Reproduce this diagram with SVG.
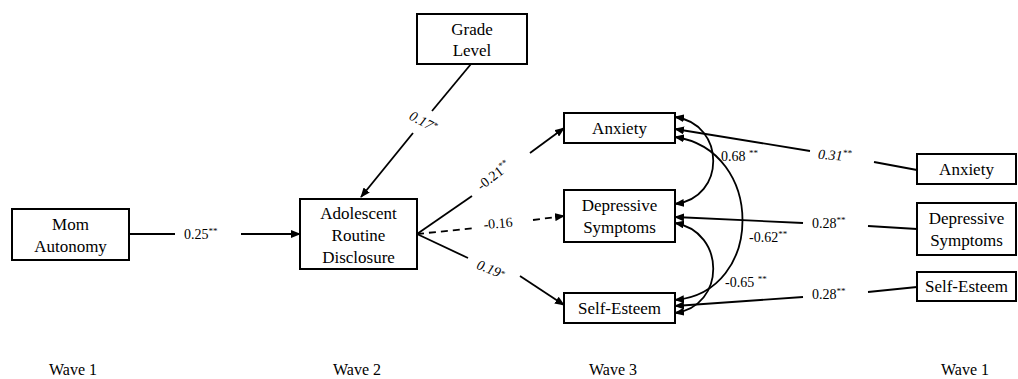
<svg xmlns="http://www.w3.org/2000/svg" width="1018" height="379" viewBox="0 0 1018 379">
<style>
.box{fill:#fff;stroke:#000;stroke-width:2}
.nt{font-family:"Liberation Serif",serif;font-size:17px;fill:#000;text-anchor:middle}
.wt{font-family:"Liberation Serif",serif;font-size:16px;fill:#000;text-anchor:middle}
.lb{font-family:"Liberation Serif",serif;font-size:14px;fill:#000}
.it{font-style:italic}
.sup{font-size:9px}
.ln{fill:none;stroke:#000;stroke-width:1.8}
.dash{stroke-dasharray:7,5}
</style>
<defs>
<marker id="ah" markerUnits="userSpaceOnUse" markerWidth="10" markerHeight="8" refX="9" refY="4" orient="auto-start-reverse">
<path d="M0,0 L10,4 L0,8 Z" fill="#000"/>
</marker>
</defs>
<rect width="1018" height="379" fill="#fff"/>
<g id="connectors">
<line class="ln" x1="129" y1="234" x2="175" y2="234"/>
<line class="ln" x1="241" y1="234" x2="300" y2="234" marker-end="url(#ah)"/>
<line class="ln" x1="471" y1="64" x2="432" y2="111"/>
<line class="ln" x1="413" y1="133" x2="361" y2="197" marker-end="url(#ah)"/>
<line class="ln" x1="417" y1="234" x2="472" y2="196"/>
<line class="ln" x1="530" y1="153" x2="564" y2="128" marker-end="url(#ah)"/>
<line class="ln dash" x1="417" y1="234" x2="475" y2="228"/>
<line class="ln dash" x1="533" y1="220" x2="564" y2="216" marker-end="url(#ah)"/>
<line class="ln" x1="417" y1="234" x2="468" y2="258"/>
<line class="ln" x1="520" y1="276" x2="564" y2="305" marker-end="url(#ah)"/>
<line class="ln" x1="917" y1="170" x2="874" y2="162"/>
<line class="ln" x1="810" y1="151" x2="675" y2="129" marker-end="url(#ah)"/>
<line class="ln" x1="917" y1="229" x2="868" y2="226"/>
<line class="ln" x1="803" y1="223" x2="675" y2="217" marker-end="url(#ah)"/>
<line class="ln" x1="917" y1="287" x2="868" y2="292"/>
<line class="ln" x1="803" y1="297" x2="675" y2="306" marker-end="url(#ah)"/>
<path class="ln" d="M675,117 C726,124 726,198 675,204" marker-start="url(#ah)" marker-end="url(#ah)"/>
<path class="ln" d="M675,137 C765,150 765,292 675,300" marker-start="url(#ah)" marker-end="url(#ah)"/>
<path class="ln" d="M675,223 C726,232 726,306 675,313" marker-start="url(#ah)" marker-end="url(#ah)"/>
<text class="lb" x="184" y="239">0.25<tspan class="sup" dy="-5">**</tspan></text>
<text class="lb it" x="409" y="126" transform="rotate(28 423 121)">0.17<tspan class="sup" dy="-4">*</tspan></text>
<text class="lb" x="494" y="180" text-anchor="middle" transform="rotate(-38 494 176)">-0.21<tspan class="sup" dy="-5">**</tspan></text>
<text class="lb" x="498" y="228" text-anchor="middle" transform="rotate(-5 498 223)">-0.16</text>
<text class="lb it" x="491" y="274" text-anchor="middle" transform="rotate(22 491 269)">0.19<tspan class="sup" dy="-2">*</tspan></text>
<text class="lb it" x="818" y="160" transform="rotate(4 835 155)">0.31<tspan class="sup" dy="-5">**</tspan></text>
<text class="lb" x="812" y="228">0.28<tspan class="sup" dy="-5">**</tspan></text>
<text class="lb" x="812" y="299">0.28<tspan class="sup" dy="-5">**</tspan></text>
<text class="lb" x="721" y="161">0.68 <tspan class="sup" dy="-5">**</tspan></text>
<text class="lb" x="749" y="242">-0.62<tspan class="sup" dy="-5">**</tspan></text>
<text class="lb" x="725" y="287">-0.65 <tspan class="sup" dy="-5">**</tspan></text>
</g>
<g id="mom-autonomy">
<rect class="box" x="12" y="209" width="117" height="51"/>
<text class="nt" x="70.5" y="230">Mom</text>
<text class="nt" x="70.5" y="252">Autonomy</text>
</g>
<g id="grade-level">
<rect class="box" x="417" y="14" width="110" height="50"/>
<text class="nt" x="472" y="35">Grade</text>
<text class="nt" x="472" y="56">Level</text>
</g>
<g id="adolescent-disclosure">
<rect class="box" x="300" y="199" width="117" height="70"/>
<text class="nt" x="358.5" y="219">Adolescent</text>
<text class="nt" x="358.5" y="241">Routine</text>
<text class="nt" x="358.5" y="263">Disclosure</text>
</g>
<g id="anxiety-w3">
<rect class="box" x="564" y="113" width="111" height="30"/>
<text class="nt" x="619.5" y="134">Anxiety</text>
</g>
<g id="depressive-w3">
<rect class="box" x="564" y="190" width="111" height="52"/>
<text class="nt" x="619.5" y="211">Depressive</text>
<text class="nt" x="619.5" y="233">Symptoms</text>
</g>
<g id="selfesteem-w3">
<rect class="box" x="564" y="293" width="111" height="30"/>
<text class="nt" x="619.5" y="314">Self-Esteem</text>
</g>
<g id="anxiety-w1">
<rect class="box" x="917" y="154" width="99" height="30"/>
<text class="nt" x="966.5" y="175">Anxiety</text>
</g>
<g id="depressive-w1">
<rect class="box" x="917" y="203" width="99" height="52"/>
<text class="nt" x="966.5" y="224">Depressive</text>
<text class="nt" x="966.5" y="246">Symptoms</text>
</g>
<g id="selfesteem-w1">
<rect class="box" x="917" y="272" width="99" height="29"/>
<text class="nt" x="966.5" y="292">Self-Esteem</text>
</g>
<g id="wave-labels">
<text class="wt" x="73" y="375">Wave 1</text>
<text class="wt" x="357" y="375">Wave 2</text>
<text class="wt" x="613" y="375">Wave 3</text>
<text class="wt" x="965" y="375">Wave 1</text>
</g>
</svg>
